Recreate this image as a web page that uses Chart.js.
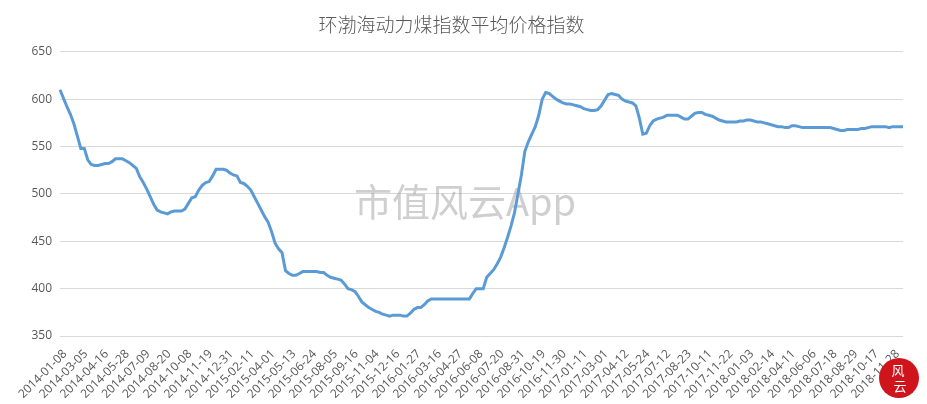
<!DOCTYPE html>
<html>
<head>
<meta charset="utf-8">
<script src="https://cdn.jsdelivr.net/npm/chart.js@4.4.1/dist/chart.umd.min.js"></script>
<style>
html,body{margin:0;padding:0;background:#fff;}
#wrap{width:927px;height:404px;position:relative;}
</style>
</head>
<body>
<div id="wrap"><canvas id="c" width="927" height="404"></canvas></div>
<script>
const chartTitle = '环渤海动力煤指数平均价格指数';
const watermarkText = '市值风云App';

const tickLabels = [
  '2014-01-08','2014-03-05','2014-04-16','2014-05-28','2014-07-09','2014-08-20','2014-10-08','2014-11-19','2014-12-31',
  '2015-02-11','2015-04-01','2015-05-13','2015-06-24','2015-08-05','2015-09-16','2015-11-04','2015-12-16',
  '2016-01-27','2016-03-16','2016-04-27','2016-06-08','2016-07-20','2016-08-31','2016-10-19','2016-11-30',
  '2017-01-11','2017-03-01','2017-04-12','2017-05-24','2017-07-12','2017-08-23','2017-10-11','2017-11-22',
  '2018-01-03','2018-02-14','2018-04-11','2018-06-06','2018-07-18','2018-08-29','2018-10-17','2018-11-28'
];

const yTicks = [350, 400, 450, 500, 550, 600, 650];

const values2014 = [
  610,601,592,584,574,561,548,548,536,531,530,530,531,532,532,534,537,537,537,535,533,530,527,518,512,505,497,489,
  483,481,480,479,481,482,482,482,484,490,496,497,504,509,512,513,519,526,526,526,525,522,520,519
];
const values2015 = [
  512,511,508,504,497,490,483,476,470,460,448,442,438,419,416,414,414,416,418,418,418,418,418,417,417,414,412,411,
  410,409,405,400,399,397,392,386,383,380,378,376,375,373,372,371,372,372,372,371
];
const values2016 = [
  371,374,378,380,380,383,387,389,389,389,389,389,389,389,389,389,389,389,389,395,400,400,400,412,416,420,426,433,
  443,454,466,480,500,520,545,555,563,571,583,600,607,606,603,600,598,596,595,595,594,593,592,590
];
const values2017 = [
  589,588,588,589,593,599,605,606,605,604,600,598,597,596,593,580,563,564,572,577,579,580,581,583,583,583,583,581,
  579,579,582,585,586,586,584,583,582,580,578,577,576,576
];
const values2018 = [
  576,576,577,577,578,578,577,576,576,575,574,573,572,571,571,570,570,572,572,571,570,570,570,570,570,570,570,570,
  570,569,568,567,567,568,568,568,568,569,569,570,571,571,571,571,571,570,571,571,571,571
];

const values = [].concat(values2014, values2015, values2016, values2017, values2018);
const labelEvery = 6;
const categories = values.map((v, i) => (i % labelEvery === 0 && tickLabels[i / labelEvery]) ? tickLabels[i / labelEvery] : '');

const decorPlugin = {
  id: 'decor',
  beforeDatasetsDraw(chart) {
    const ctx = chart.ctx;
    ctx.save();
    ctx.font = '38px "Noto Sans CJK SC", serif';
    ctx.fillStyle = 'rgba(140,140,140,0.42)';
    ctx.textAlign = 'center';
    ctx.textBaseline = 'middle';
    ctx.fillText(watermarkText, 465, 202);
    ctx.restore();
  },
  afterDraw(chart) {
    const ctx = chart.ctx;
    ctx.save();
    ctx.beginPath();
    ctx.arc(899, 378, 20, 0, Math.PI * 2);
    ctx.fillStyle = '#d0141c';
    ctx.fill();
    ctx.fillStyle = '#ffffff';
    ctx.font = '13px "Noto Sans CJK SC"';
    ctx.textAlign = 'center';
    ctx.textBaseline = 'middle';
    ctx.fillText('风', 898, 370);
    ctx.fillText('云', 900, 386);
    ctx.restore();
  }
};

new Chart(document.getElementById('c'), {
  type: 'line',
  data: {
    labels: categories,
    datasets: [{
      data: values,
      borderColor: '#5b9bd5',
      borderWidth: 3,
      pointRadius: 0,
      tension: 0,
      fill: false
    }]
  },
  options: {
    responsive: false,
    animation: false,
    devicePixelRatio: 1,
    layout: { padding: { left: 0, right: 24, top: 0, bottom: 0 } },
    plugins: {
      legend: { display: false },
      tooltip: { enabled: false },
      title: {
        display: true,
        text: chartTitle,
        color: '#595959',
        font: { family: '"Noto Sans CJK SC"', size: 19, weight: '300' },
        padding: { top: 13, bottom: 16 }
      }
    },
    scales: {
      x: {
        type: 'category',
        offset: false,
        grid: { display: false, drawTicks: false },
        border: { display: false },
        afterFit(s) { s.height = 68; },
        ticks: {
          autoSkip: false,
          minRotation: 45,
          maxRotation: 45,
          padding: 11,
          labelOffset: 5,
          color: '#595959',
          font: { family: '"Open Sans"', size: 12 },
          callback(v, i) { return categories[i] === '' ? null : categories[i]; }
        }
      },
      y: {
        min: 350,
        max: 650,
        afterFit(s) { s.width = 60; },
        afterBuildTicks(s) { s.ticks = yTicks.map(v => ({ value: v })); },
        grid: { color: '#d9d9d9', lineWidth: 1, drawTicks: false },
        border: { display: false },
        ticks: {
          padding: 8,
          color: '#595959',
          font: { family: '"Open Sans"', size: 12 }
        }
      }
    }
  },
  plugins: [decorPlugin]
});
</script>
</body>
</html>
